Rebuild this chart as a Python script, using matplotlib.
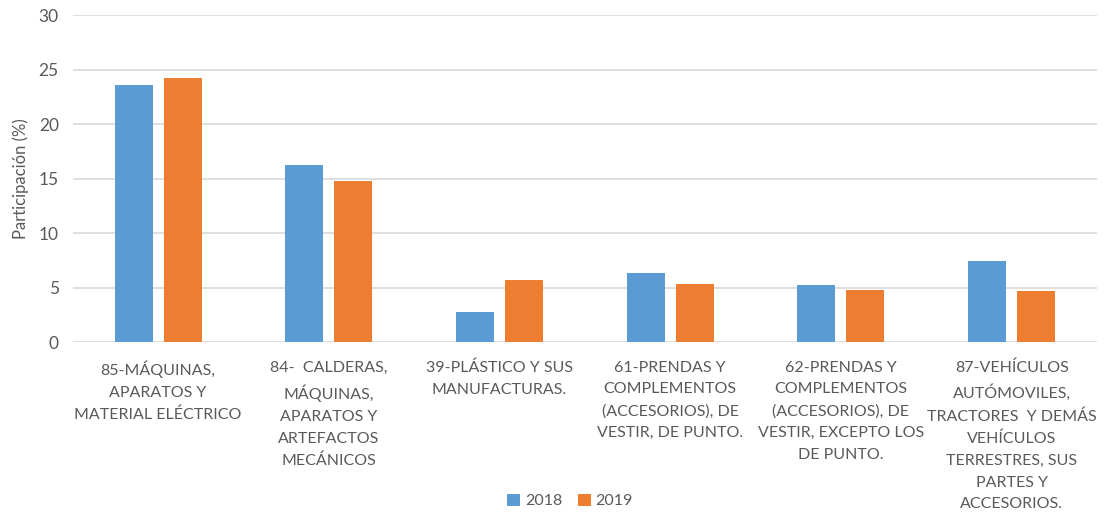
import matplotlib
matplotlib.use("Agg")
import matplotlib.pyplot as plt
import numpy as np

categories = [
    "85-MÁQUINAS,\nAPARATOS Y\nMATERIAL ELÉCTRICO",
    "84-  CALDERAS,\nMÁQUINAS,\nAPARATOS Y\nARTEFACTOS\nMECÁNICOS",
    "39-PLÁSTICO Y SUS\nMANUFACTURAS.",
    "61-PRENDAS Y\nCOMPLEMENTOS\n(ACCESORIOS), DE\nVESTIR, DE PUNTO.",
    "62-PRENDAS Y\nCOMPLEMENTOS\n(ACCESORIOS), DE\nVESTIR, EXCEPTO LOS\nDE PUNTO.",
    "87-VEHÍCULOS\nAUTÓMOVILES,\nTRACTORES  Y DEMÁS\nVEHÍCULOS\nTERRESTRES, SUS\nPARTES Y\nACCESORIOS.",
]
values_2018 = [23.6, 16.3, 2.8, 6.4, 5.3, 7.5]
values_2019 = [24.25, 14.85, 5.7, 5.4, 4.85, 4.7]
series_labels = ["2018", "2019"]
y_ticks = [0, 5, 10, 15, 20, 25, 30]

plt.rcParams["font.family"] = ["Lato", "DejaVu Sans"]
text_color = "#595959"
blue = "#5B9BD5"
orange = "#ED7D31"

fig = plt.figure(figsize=(11.07, 5.15), dpi=100)
ax = fig.add_axes([0.0657, 0.335, 0.9253, 0.635])

x = np.arange(len(categories))
width = 0.223
offset = 0.1435
ax.bar(x - offset, values_2018, width, color=blue, label=series_labels[0], zorder=3)
ax.bar(x + offset, values_2019, width, color=orange, label=series_labels[1], zorder=3)

ax.set_xlim(-0.5, len(categories) - 0.5)
ax.set_ylim(0, 30)
ax.set_yticks(y_ticks)
ax.yaxis.grid(True, color="#d9d9d9", linewidth=1.2, zorder=0)
ax.set_axisbelow(True)
for s in ax.spines.values():
    s.set_visible(False)
ax.tick_params(axis="both", length=0, colors=text_color, labelsize=11.5)
ax.tick_params(axis="y", pad=10, labelsize=12.5)
ax.tick_params(axis="x", pad=13)
ax.set_xticks(x)
ax.set_xticklabels(categories, linespacing=1.7, va="top")
for lbl in ax.get_xticklabels():
    lbl.set_color(text_color)
ax.set_ylabel("Participación (%)", color=text_color, fontsize=12, labelpad=7)

leg = fig.legend(loc="center", bbox_to_anchor=(0.515, 0.027), ncol=2, frameon=False,
                 fontsize=11.5, handlelength=0.8, handleheight=0.8, handletextpad=0.3,
                 columnspacing=1.0)
for t in leg.get_texts():
    t.set_color(text_color)

fig.savefig("out.png", dpi=100)
